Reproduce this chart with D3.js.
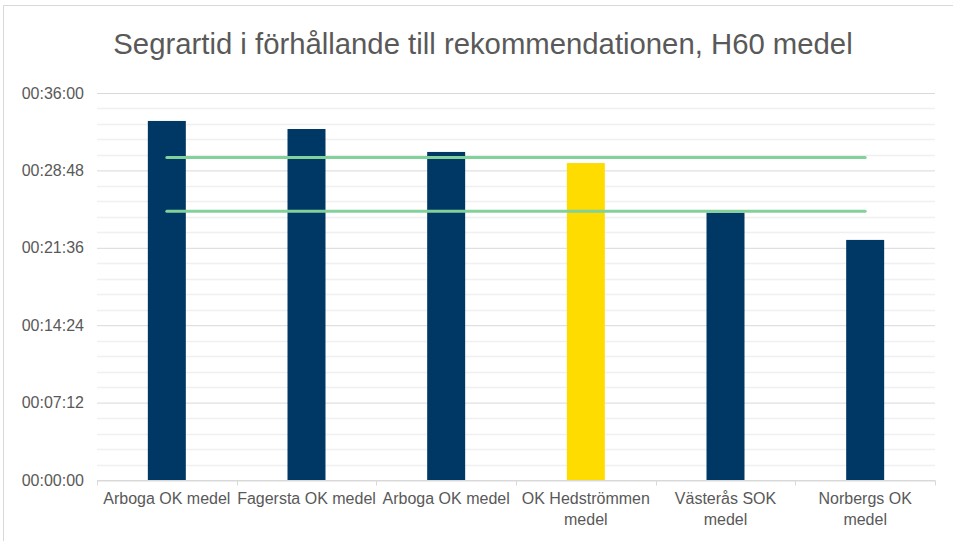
<!DOCTYPE html>
<html>
<head>
<meta charset="utf-8">
<script src="https://cdn.jsdelivr.net/npm/d3@7"></script>
<style>
  body { margin: 0; background: #fff; }
  svg { font-family: "Liberation Sans", Arial, sans-serif; display: block; }
</style>
</head>
<body>
<svg width="953" height="541"></svg>
<script>
const svg = d3.select("svg");
const width = +svg.attr("width");
const height = +svg.attr("height");

// data (tider i sekunder)
const categories = ["Arboga OK medel", "Fagersta OK medel", "Arboga OK medel (2)", "OK Hedströmmen medel", "Västerås SOK medel", "Norbergs OK medel"];
const tickLabels = [["Arboga OK medel"], ["Fagersta OK medel"], ["Arboga OK medel"], ["OK Hedströmmen", "medel"], ["Västerås SOK", "medel"], ["Norbergs OK", "medel"]];
const winTimes = [2004, 1959, 1831, 1769, 1492, 1340];
const highlight = [false, false, false, true, false, false];
const recommendUpper = 1800; // 00:30:00
const recommendLower = 1500; // 00:25:00
const yTicks = [0, 432, 864, 1296, 1728, 2160];

const margin = { left: 97, right: 18, top: 93, bottom: 61 };

const x = d3.scaleBand()
  .domain(categories)
  .range([margin.left, width - margin.right])
  .paddingInner(0.728)
  .paddingOuter(0.364);

const y = d3.scaleLinear()
  .domain([0, 2160])
  .range([height - margin.bottom, margin.top]);

const fmt = s => [Math.floor(s / 3600), Math.floor(s / 60) % 60, s % 60]
  .map(v => String(v).padStart(2, "0")).join(":");

// ram
svg.append("path")
  .attr("d", `M3.5,${height} V5.5 H${width}`)
  .attr("fill", "none")
  .attr("stroke", "#d9d9d9")
  .attr("stroke-width", 1);

// titel
svg.append("text")
  .attr("x", 483)
  .attr("y", 54)
  .attr("text-anchor", "middle")
  .attr("font-size", 29.3)
  .attr("fill", "#595959")
  .text("Segrartid i förhållande till rekommendationen, H60 medel");

// hjälplinjer
const minor = d3.range(0, 2160, 86.4).filter((d, i) => i % 5 !== 0);
svg.append("g")
  .selectAll("line")
  .data(minor)
  .join("line")
  .attr("x1", margin.left).attr("x2", width - margin.right)
  .attr("y1", d => Math.round(y(d)) + 0.5).attr("y2", d => Math.round(y(d)) + 0.5)
  .attr("stroke", "#f0f0f0")
  .attr("stroke-width", 1.5);

// y-axel
const yAxis = svg.append("g")
  .attr("transform", `translate(${margin.left},0)`)
  .call(d3.axisLeft(y).tickValues(yTicks).tickFormat(fmt).tickSize(-(width - margin.left - margin.right)).tickPadding(13));
yAxis.select(".domain").remove();
yAxis.selectAll(".tick line").attr("stroke", "#d9d9d9");
yAxis.selectAll(".tick text").attr("fill", "#595959").attr("font-size", 16);

// staplar
svg.append("g")
  .selectAll("rect")
  .data(categories)
  .join("rect")
  .attr("x", d => x(d))
  .attr("width", x.bandwidth())
  .attr("y", (d, i) => y(winTimes[i]))
  .attr("height", (d, i) => y(0) - y(winTimes[i]))
  .attr("fill", (d, i) => highlight[i] ? "#ffdc00" : "#003865");

// x-axel
const xAxis = svg.append("g")
  .attr("transform", `translate(0,${y(0) + 0.5})`)
  .call(d3.axisBottom(x).tickSize(0).tickFormat(""));
xAxis.select(".domain").attr("stroke", "#d9d9d9");
xAxis.selectAll(".tick").remove();

const bounds = d3.range(categories.length + 1).map(i => margin.left + i * x.step());
xAxis.selectAll(".bound")
  .data(bounds)
  .join("line")
  .attr("x1", d => Math.round(d) + 0.5).attr("x2", d => Math.round(d) + 0.5)
  .attr("y1", 0).attr("y2", 5)
  .attr("stroke", "#d9d9d9");

const labels = svg.append("g")
  .selectAll("text")
  .data(categories)
  .join("text")
  .attr("x", d => x(d) + x.bandwidth() / 2)
  .attr("y", y(0) + 24)
  .attr("text-anchor", "middle")
  .attr("font-size", 16)
  .attr("fill", "#595959");
labels.selectAll("tspan")
  .data((d, i) => tickLabels[i])
  .join("tspan")
  .attr("x", function () { return this.parentNode.getAttribute("x"); })
  .attr("dy", (d, i) => i === 0 ? 0 : 21)
  .text(d => d);

// rekommendationslinjer
const first = categories[0], last = categories[categories.length - 1];
svg.append("g")
  .selectAll("line")
  .data([recommendUpper, recommendLower])
  .join("line")
  .attr("x1", x(first) + x.bandwidth() / 2)
  .attr("x2", x(last) + x.bandwidth() / 2)
  .attr("y1", d => y(d)).attr("y2", d => y(d))
  .attr("stroke", "#82d19a")
  .attr("stroke-width", 3)
  .attr("stroke-linecap", "round");
</script>
</body>
</html>
